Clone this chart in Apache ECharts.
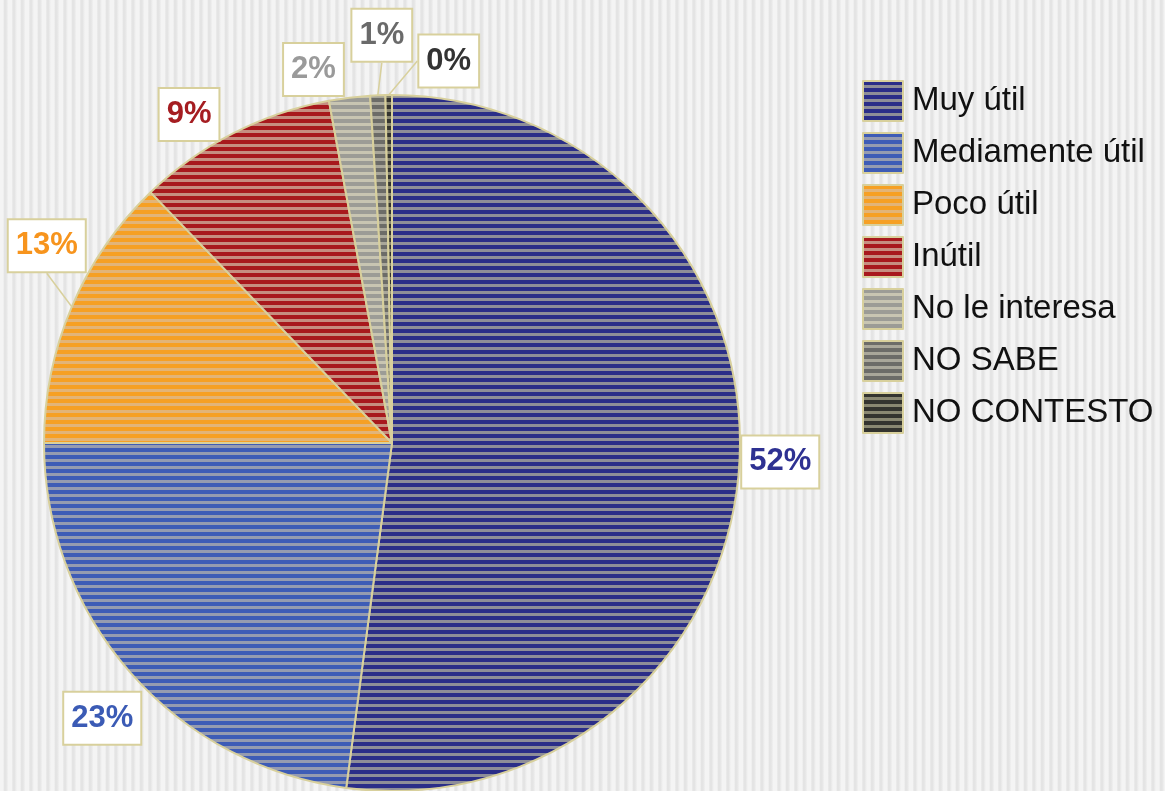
<!DOCTYPE html>
<html>
<head>
<meta charset="utf-8">
<script src="https://cdn.jsdelivr.net/npm/echarts@6/dist/echarts.min.js"></script>
<style>
  html, body {
    margin: 0;
    padding: 0;
    width: 1165px;
    height: 791px;
    overflow: hidden;
    background: repeating-linear-gradient(90deg, #f4f4f4 0px, #f4f4f4 3px, #e4e4e4 4.5px, #e4e4e4 6px, #f4f4f4 8.5px);
  }
  #chart {
    width: 1165px;
    height: 791px;
  }
</style>
</head>
<body>
<div id="chart"></div>
<script>
// datos
const categories = ['Muy útil', 'Mediamente útil', 'Poco útil', 'Inútil', 'No le interesa', 'NO SABE', 'NO CONTESTO'];
const values = [52.1, 22.9, 12.8, 9.3, 1.9, 0.7, 0.3];

// estilos: color base / raya clara, color de la etiqueta
const baseColors = ['#2b2e88', '#3e5cb6', '#f6a024', '#a8191d', '#9c9c96', '#6c6c68', '#34342f'];
const stripeColors = ['#8e8e98', '#959bb0', '#e2b478', '#c68e80', '#c8c5b2', '#a9a79a', '#8a8872'];
const labelColors = ['#2e3192', '#3b5bb5', '#f7941d', '#a51d21', '#9a9a9a', '#6a6a6a', '#333333'];
// desplazamiento del centro de la etiqueta respecto al borde del sector
const labelOffsets = [[41, -4], [-28, 46], [-25, -61], [-44, -19], [-36, -28], [4, -60], [60, -34]];
const showLeader = [false, false, true, false, false, true, true];

const khaki = '#d8d09c';

function stripe(c1, c2) {
  const cv = document.createElement('canvas');
  cv.width = 4;
  cv.height = 7;
  const ctx = cv.getContext('2d');
  ctx.fillStyle = c1;
  ctx.fillRect(0, 0, 4, 7);
  ctx.fillStyle = c2;
  ctx.fillRect(0, 4, 4, 3);
  return { image: cv, repeat: 'repeat' };
}

const chart = echarts.init(document.getElementById('chart'));

const seriesData = categories.map((name, i) => ({
  name: name,
  value: values[i],
  itemStyle: { color: stripe(baseColors[i], stripeColors[i]) },
  label: { color: labelColors[i] },
  labelLine: {
    lineStyle: { color: khaki, width: showLeader[i] ? 1.5 : 0, opacity: showLeader[i] ? 1 : 0 }
  }
}));

const option = {
  backgroundColor: 'transparent',
  animation: false,
  legend: {
    orient: 'vertical',
    left: 862,
    top: 80,
    padding: 0,
    itemWidth: 40,
    itemHeight: 40,
    itemGap: 10,
    icon: 'rect',
    itemStyle: { borderColor: khaki, borderWidth: 2 },
    textStyle: {
      fontFamily: "'Liberation Sans', Arial, sans-serif",
      fontSize: 33,
      color: '#111',
      padding: [2, 0, 0, 4]
    },
    data: categories
  },
  series: [{
    type: 'pie',
    center: [392, 443],
    radius: 348,
    startAngle: 90,
    clockwise: true,
    avoidLabelOverlap: false,
    percentPrecision: 0,
    itemStyle: { borderColor: khaki, borderWidth: 2 },
    label: {
      show: true,
      position: 'outside',
      formatter: '{d}%',
      fontFamily: "'Liberation Sans', Arial, sans-serif",
      fontSize: 31,
      fontWeight: 'bold',
      backgroundColor: '#ffffff',
      borderColor: khaki,
      borderWidth: 2,
      padding: [11, 7, 9, 7]
    },
    labelLine: { show: true, length: 4, length2: 0 },
    labelLayout: function (params) {
      const i = params.dataIndex;
      let p;
      if (params.labelLinePoints && params.labelLinePoints.length) {
        p = params.labelLinePoints[0];
      } else {
        p = [params.rect.x + params.rect.width / 2, params.rect.y];
      }
      return {
        x: p[0] + labelOffsets[i][0],
        y: p[1] + labelOffsets[i][1],
        align: 'center',
        verticalAlign: 'middle'
      };
    },
    emphasis: { disabled: true },
    data: seriesData
  }]
};

chart.setOption(option);
</script>
</body>
</html>
